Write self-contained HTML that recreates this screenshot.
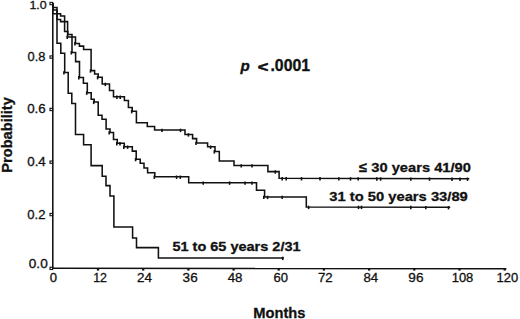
<!DOCTYPE html>
<html><head><meta charset="utf-8"><style>
html,body{margin:0;padding:0;background:#fff;}
body{width:520px;height:319px;overflow:hidden;}
svg{display:block;}
text{font-family:"Liberation Sans",sans-serif;fill:#111;stroke:#111;stroke-width:0.3px;}
</style></head><body>
<svg width="520" height="319" viewBox="0 0 520 319">
<g fill="none" stroke="#111" stroke-width="1.55">
<line x1="52.8" y1="2.8" x2="52.8" y2="268.9"/>
<line x1="52.2" y1="268.3" x2="506.4" y2="268.6"/>
</g>
<g fill="none" stroke="#111" stroke-width="1.1"><rect x="50.0" y="2.4" width="2.6" height="2.3"/><rect x="50.0" y="55.9" width="2.6" height="2.3"/><rect x="50.0" y="108.3" width="2.6" height="2.3"/><rect x="50.0" y="161.0" width="2.6" height="2.3"/><rect x="50.0" y="213.4" width="2.6" height="2.3"/><rect x="50.0" y="267.2" width="2.6" height="2.3"/></g>
<g fill="#111"><rect x="96.9" y="268" width="2.2" height="2.6"/><rect x="142.1" y="268" width="2.2" height="2.6"/><rect x="187.3" y="268" width="2.2" height="2.6"/><rect x="232.5" y="268" width="2.2" height="2.6"/><rect x="277.6" y="268" width="2.2" height="2.6"/><rect x="322.8" y="268" width="2.2" height="2.6"/><rect x="368.0" y="268" width="2.2" height="2.6"/><rect x="413.2" y="268" width="2.2" height="2.6"/><rect x="458.4" y="268" width="2.2" height="2.6"/><rect x="503.6" y="268" width="2.2" height="2.6"/></g>
<g fill="none" stroke="#111" stroke-width="1.55" stroke-linejoin="miter" stroke-linecap="square">
<polyline points="52.8,3.8 52.8,7.5 57.0,7.5 57.0,13.8 60.6,13.8 60.6,16.0 64.6,16.0 64.6,31.4 67.8,31.4 67.8,34.5 72.0,34.5 72.0,37.0 75.5,37.0 75.5,43.4 79.4,43.4 79.4,46.1 83.6,46.1 83.6,49.5 91.1,49.5 91.1,70.6 94.6,70.6 94.6,74.0 98.2,74.0 98.2,77.3 102.2,77.3 102.2,84.0 109.5,84.0 109.5,90.5 113.5,90.5 113.5,96.8 124.4,96.8 124.4,100.5 128.4,100.5 128.4,107.4 132.2,107.4 132.2,111.3 136.4,111.3 136.4,122.8 147.3,122.8 147.3,126.4 154.6,126.4 154.6,130.0 185.0,130.0 185.0,134.5 192.6,134.5 192.6,138.6 196.6,138.6 196.6,143.0 207.6,143.0 207.6,146.8 215.0,146.8 215.0,151.5 219.3,151.5 219.3,161.0 234.0,161.0 234.0,165.5 267.9,165.5 267.9,171.6 279.1,171.6 279.1,178.3 468.5,178.8"/>
<polyline points="52.8,3.8 52.8,10.0 57.0,10.0 57.0,19.5 60.6,19.5 60.6,21.6 67.6,21.6 67.6,37.0 72.0,37.0 72.0,52.4 75.6,52.4 75.6,61.6 79.5,61.6 79.5,77.4 83.4,77.4 83.4,83.3 87.3,83.3 87.3,92.8 91.2,92.8 91.2,99.3 94.2,99.3 94.2,102.0 98.2,102.0 98.2,115.3 102.0,115.3 102.0,119.3 106.1,119.3 106.1,129.0 110.0,129.0 110.0,132.5 113.5,132.5 113.5,139.4 117.3,139.4 117.3,143.3 124.3,143.3 124.3,146.8 132.3,146.8 132.3,151.1 136.2,151.1 136.2,159.2 140.2,159.2 140.2,163.3 144.0,163.3 144.0,168.0 147.6,168.0 147.6,172.7 154.8,172.7 154.8,176.8 188.7,176.8 188.7,182.7 256.5,182.7 256.5,190.2 264.6,190.2 264.6,197.0 306.3,197.0 306.3,207.0 449.5,207.3"/>
<polyline points="52.8,3.8 52.8,13.8 57.0,13.8 57.0,43.3 60.8,43.3 60.8,53.2 64.7,53.2 64.7,72.5 68.2,72.5 68.2,93.2 71.8,93.2 71.8,103.5 75.5,103.5 75.5,134.4 83.6,134.4 83.6,144.7 91.1,144.7 91.1,165.6 102.2,165.6 102.2,176.2 106.0,176.2 106.0,185.6 110.0,185.6 110.0,196.0 113.9,196.0 113.9,227.0 132.6,227.0 132.6,237.9 136.5,237.9 136.5,247.6 158.4,247.6 158.4,258.0 283.2,258.0"/>
</g>
<g stroke="#111" stroke-width="1.6"><line x1="74.9" y1="42.1" x2="74.9" y2="45.5"/><line x1="90.5" y1="69.3" x2="90.5" y2="72.7"/><line x1="97.6" y1="76.0" x2="97.6" y2="79.4"/><line x1="105.3" y1="82.7" x2="105.3" y2="86.1"/><line x1="116.9" y1="95.5" x2="116.9" y2="98.9"/><line x1="120.2" y1="95.5" x2="120.2" y2="98.9"/><line x1="131.7" y1="110.0" x2="131.7" y2="113.4"/><line x1="162.0" y1="128.7" x2="162.0" y2="132.1"/><line x1="180.5" y1="128.7" x2="180.5" y2="132.1"/><line x1="188.4" y1="133.2" x2="188.4" y2="136.6"/><line x1="196.0" y1="141.7" x2="196.0" y2="145.1"/><line x1="210.6" y1="145.5" x2="210.6" y2="148.9"/><line x1="214.3" y1="150.2" x2="214.3" y2="153.6"/><line x1="241.2" y1="164.2" x2="241.2" y2="167.6"/><line x1="252.0" y1="164.2" x2="252.0" y2="167.6"/><line x1="275.3" y1="170.3" x2="275.3" y2="173.7"/><line x1="282.2" y1="177.0" x2="282.2" y2="180.4"/><line x1="286.2" y1="177.0" x2="286.2" y2="180.4"/><line x1="301.5" y1="177.1" x2="301.5" y2="180.5"/><line x1="320.0" y1="177.1" x2="320.0" y2="180.5"/><line x1="338.8" y1="177.2" x2="338.8" y2="180.6"/><line x1="350.5" y1="177.2" x2="350.5" y2="180.6"/><line x1="358.2" y1="177.2" x2="358.2" y2="180.6"/><line x1="376.8" y1="177.3" x2="376.8" y2="180.7"/><line x1="380.6" y1="177.3" x2="380.6" y2="180.7"/><line x1="410.8" y1="177.4" x2="410.8" y2="180.8"/><line x1="429.5" y1="177.4" x2="429.5" y2="180.8"/><line x1="452.0" y1="177.5" x2="452.0" y2="180.9"/><line x1="460.0" y1="177.5" x2="460.0" y2="180.9"/><line x1="467.5" y1="177.5" x2="467.5" y2="180.9"/><line x1="67.2" y1="35.7" x2="67.2" y2="39.1"/><line x1="71.3" y1="51.1" x2="71.3" y2="54.5"/><line x1="78.8" y1="76.1" x2="78.8" y2="79.5"/><line x1="86.7" y1="91.5" x2="86.7" y2="94.9"/><line x1="93.7" y1="100.7" x2="93.7" y2="104.1"/><line x1="109.2" y1="131.2" x2="109.2" y2="134.6"/><line x1="116.8" y1="142.0" x2="116.8" y2="145.4"/><line x1="120.0" y1="142.0" x2="120.0" y2="145.4"/><line x1="123.8" y1="145.5" x2="123.8" y2="148.9"/><line x1="127.6" y1="145.5" x2="127.6" y2="148.9"/><line x1="135.6" y1="157.9" x2="135.6" y2="161.3"/><line x1="154.3" y1="175.5" x2="154.3" y2="178.9"/><line x1="176.6" y1="175.5" x2="176.6" y2="178.9"/><line x1="180.3" y1="175.5" x2="180.3" y2="178.9"/><line x1="203.2" y1="181.4" x2="203.2" y2="184.8"/><line x1="229.6" y1="181.4" x2="229.6" y2="184.8"/><line x1="245.0" y1="181.4" x2="245.0" y2="184.8"/><line x1="252.0" y1="181.4" x2="252.0" y2="184.8"/><line x1="263.8" y1="195.7" x2="263.8" y2="199.1"/><line x1="267.6" y1="195.7" x2="267.6" y2="199.1"/><line x1="282.2" y1="195.7" x2="282.2" y2="199.1"/><line x1="308.6" y1="205.7" x2="308.6" y2="209.1"/><line x1="358.5" y1="205.7" x2="358.5" y2="209.1"/><line x1="361.5" y1="205.7" x2="361.5" y2="209.1"/><line x1="410.8" y1="205.8" x2="410.8" y2="209.2"/><line x1="425.8" y1="205.9" x2="425.8" y2="209.3"/><line x1="448.5" y1="206.0" x2="448.5" y2="209.4"/><line x1="63.9" y1="71.2" x2="63.9" y2="74.6"/><line x1="282.7" y1="256.7" x2="282.7" y2="260.1"/></g>
<text transform="translate(29.41,9.40) scale(1.058,1)" font-size="11.79" font-weight="normal" font-style="normal">1.0</text>
<text transform="translate(27.49,60.90) scale(1.041,1)" font-size="12.36" font-weight="normal" font-style="normal">0.8</text>
<text transform="translate(27.22,113.40) scale(1.092,1)" font-size="12.21" font-weight="normal" font-style="normal">0.6</text>
<text transform="translate(27.22,166.20) scale(1.079,1)" font-size="12.36" font-weight="normal" font-style="normal">0.4</text>
<text transform="translate(27.33,218.90) scale(1.058,1)" font-size="12.36" font-weight="normal" font-style="normal">0.2</text>
<text transform="translate(28.81,268.30) scale(1.100,1)" font-size="12.36" font-weight="normal" font-style="normal">0.0</text>
<text transform="translate(49.63,281.50) scale(1.094,1)" font-size="11.93" font-weight="normal" font-style="normal">0</text>
<text transform="translate(93.22,281.50) scale(1.038,1)" font-size="11.93" font-weight="normal" font-style="normal">12</text>
<text transform="translate(136.98,281.50) scale(1.131,1)" font-size="11.93" font-weight="normal" font-style="normal">24</text>
<text transform="translate(182.61,281.50) scale(1.137,1)" font-size="11.93" font-weight="normal" font-style="normal">36</text>
<text transform="translate(227.72,281.50) scale(1.115,1)" font-size="11.93" font-weight="normal" font-style="normal">48</text>
<text transform="translate(273.40,281.50) scale(1.093,1)" font-size="11.93" font-weight="normal" font-style="normal">60</text>
<text transform="translate(317.89,281.50) scale(1.112,1)" font-size="11.93" font-weight="normal" font-style="normal">72</text>
<text transform="translate(363.45,281.50) scale(1.110,1)" font-size="11.93" font-weight="normal" font-style="normal">84</text>
<text transform="translate(408.34,281.50) scale(1.142,1)" font-size="11.93" font-weight="normal" font-style="normal">96</text>
<text transform="translate(451.68,281.50) scale(1.087,1)" font-size="11.93" font-weight="normal" font-style="normal">108</text>
<text transform="translate(496.48,281.50) scale(1.087,1)" font-size="11.93" font-weight="normal" font-style="normal">120</text>
<text transform="translate(253.30,317.50) scale(0.978,1)" font-size="15.00" font-weight="bold" font-style="normal">Months</text>
<text transform="translate(257.82,72.01) scale(1.278,1)" font-size="14.26" font-weight="bold" font-style="normal" style="stroke-width:0.55px;stroke-linejoin:round">&lt;</text>
<text transform="translate(270.44,71.30) scale(1.013,1)" font-size="15.64" font-weight="bold" font-style="normal">.0001</text>
<text transform="translate(240.55,71.14) scale(1.025,1)" font-size="14.80" font-weight="bold" font-style="italic">p</text>
<text transform="translate(359.08,172.00) scale(1.073,1)" font-size="13.71" font-weight="bold" font-style="normal">≤ 30 years 41/90</text>
<text transform="translate(329.28,201.40) scale(1.104,1)" font-size="13.36" font-weight="bold" font-style="normal">31 to 50 years 33/89</text>
<text transform="translate(172.41,251.40) scale(1.148,1)" font-size="12.64" font-weight="bold" font-style="normal">51 to 65 years 2/31</text>
<text transform="translate(11.70,172.70) rotate(-90) scale(0.994,1)" font-size="14.71" font-weight="bold">Probability</text>
</svg>
</body></html>
